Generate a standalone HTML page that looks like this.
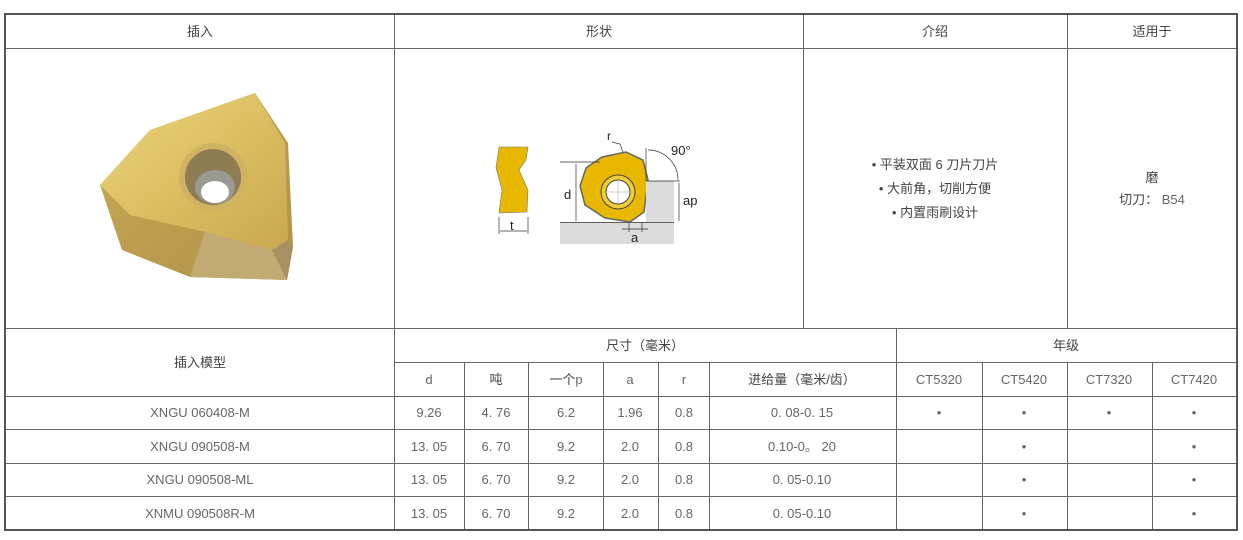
<!DOCTYPE html>
<html><head><meta charset="utf-8"><style>
html,body{margin:0;padding:0;background:#fff;}
svg{display:block;}
text{font-family:"Liberation Sans","Noto Sans CJK SC",sans-serif;font-size:13px;fill:#444;}
.n{fill:#666;}
</style></head><body>
<svg width="1243" height="540" viewBox="0 0 1243 540" xmlns="http://www.w3.org/2000/svg">
<defs>
<linearGradient id="g1" x1="0" y1="0" x2="1" y2="1">
<stop offset="0" stop-color="#ecd480"/><stop offset="0.5" stop-color="#dcbf62"/><stop offset="1" stop-color="#c8a850"/></linearGradient>
<linearGradient id="g2" x1="0" y1="0" x2="1" y2="1">
<stop offset="0" stop-color="#c9aa55"/><stop offset="1" stop-color="#b09248"/></linearGradient>
</defs>
<g stroke="#666" stroke-width="1" fill="none">
<line x1="5" y1="14.5" x2="1237" y2="14.5"/>
<line x1="5" y1="48.5" x2="1237" y2="48.5"/>
<line x1="5" y1="328.5" x2="1237" y2="328.5"/>
<line x1="394" y1="362.5" x2="1237" y2="362.5"/>
<line x1="5" y1="396.5" x2="1237" y2="396.5"/>
<line x1="5" y1="429.5" x2="1237" y2="429.5"/>
<line x1="5" y1="463.5" x2="1237" y2="463.5"/>
<line x1="5" y1="496.5" x2="1237" y2="496.5"/>
<line x1="394.5" y1="14" x2="394.5" y2="530"/>
<line x1="803.5" y1="14" x2="803.5" y2="328"/>
<line x1="1067.5" y1="14" x2="1067.5" y2="328"/>
<line x1="896.5" y1="328" x2="896.5" y2="530"/>
<line x1="464.5" y1="362" x2="464.5" y2="530"/>
<line x1="528.5" y1="362" x2="528.5" y2="530"/>
<line x1="603.5" y1="362" x2="603.5" y2="530"/>
<line x1="658.5" y1="362" x2="658.5" y2="530"/>
<line x1="709.5" y1="362" x2="709.5" y2="530"/>
<line x1="982.5" y1="362" x2="982.5" y2="530"/>
<line x1="1067.5" y1="362" x2="1067.5" y2="530"/>
<line x1="1152.5" y1="362" x2="1152.5" y2="530"/>
</g>
<rect x="5" y="14" width="1232" height="516" fill="none" stroke="#555" stroke-width="2"/>

<!-- insert photo -->
<polygon points="100,185 122,250 190,277 287,280 293,247 288,143 255,93 150,130" fill="url(#g2)"/>
<polygon points="100,185 150,130 255,93 285,143 288,240 272,250 205,232 130,215" fill="url(#g1)"/>
<polygon points="205,232 272,250 287,280 190,277" fill="#c2ab72"/>
<polygon points="272,250 288,240 293,247 287,280" fill="#a89060"/>
<circle cx="213" cy="177" r="34" fill="#cfb262"/>
<circle cx="213" cy="177" r="28" fill="#8e7c52"/>
<ellipse cx="215" cy="187" rx="20" ry="17" fill="#9a9a92"/>
<ellipse cx="215" cy="192" rx="14" ry="11" fill="#fff"/>

<!-- shape diagram -->
<polygon points="499,147 528,147 526,160 519,170 528,190 527,212 499,213 502,190 496,168" fill="#e8b800" stroke="#777" stroke-width="0.6"/>
<line x1="499" y1="217" x2="499" y2="234" stroke="#333" stroke-width="0.7"/>
<line x1="528" y1="217" x2="528" y2="234" stroke="#333" stroke-width="0.7"/>
<line x1="500" y1="231" x2="527" y2="231" stroke="#333" stroke-width="0.7"/>
<text x="510" y="230" style="font-size:13px;fill:#222">t</text>
<rect x="560" y="222" width="114" height="22" fill="#dcdcdc"/>
<line x1="560" y1="222.5" x2="674" y2="222.5" stroke="#333" stroke-width="0.7"/>
<polygon points="586,168 602,157 626,152 643,160 648,180 644,212 630,222 605,218 585,205 580,186" fill="#e8b800" stroke="#666" stroke-width="1.5"/>
<circle cx="618" cy="192" r="17" fill="#f2cc30" stroke="#444" stroke-width="1"/>
<circle cx="618" cy="192" r="12" fill="#fff" stroke="#444" stroke-width="1"/>
<line x1="604" y1="192" x2="632" y2="192" stroke="#999" stroke-width="0.5"/>
<line x1="618" y1="178" x2="618" y2="206" stroke="#999" stroke-width="0.5"/>
<rect x="646" y="181" width="28" height="41" fill="#dcdcdc"/>
<line x1="646" y1="181" x2="680" y2="181" stroke="#333" stroke-width="0.7"/>
<line x1="646" y1="148" x2="646" y2="181" stroke="#333" stroke-width="0.7"/>
<path d="M648,150 A30,30 0 0 1 678,180" fill="none" stroke="#333" stroke-width="0.7"/>
<text x="671" y="155" style="font-size:13px;fill:#222">90°</text>
<line x1="679" y1="183" x2="679" y2="221" stroke="#333" stroke-width="0.7"/>
<text x="683" y="205" style="font-size:13px;fill:#222">ap</text>
<line x1="560" y1="162" x2="600" y2="162" stroke="#333" stroke-width="0.7"/>
<line x1="576" y1="164" x2="576" y2="221" stroke="#333" stroke-width="0.7"/>
<text x="564" y="199" style="font-size:13px;fill:#222">d</text>
<text x="607" y="140" style="font-size:12px;fill:#222">r</text>
<path d="M612,142 L620,144 L623,152" fill="none" stroke="#333" stroke-width="0.7"/>
<line x1="629" y1="222" x2="629" y2="232" stroke="#333" stroke-width="0.7"/>
<line x1="642" y1="222" x2="642" y2="232" stroke="#333" stroke-width="0.7"/>
<line x1="622" y1="229" x2="648" y2="229" stroke="#333" stroke-width="0.7"/>
<text x="631" y="242" style="font-size:13px;fill:#222">a</text>

<g text-anchor="middle">
<text x="200" y="36">插入</text>
<text x="599" y="36">形状</text>
<text x="935" y="36">介绍</text>
<text x="1152" y="36">适用于</text>
<text x="935" y="169">• 平装双面 6 刀片刀片</text>
<text x="935" y="193">• 大前角，切削方便</text>
<text x="935" y="217">• 内置雨刷设计</text>
<text x="1152" y="182">磨</text>
<text x="1152" y="204">切刀： <tspan class="n">B54</tspan></text>
<text x="200" y="367">插入模型</text>
<text x="645" y="350">尺寸（毫米）</text>
<text x="1066" y="350">年级</text>
<text x="429" y="384" class="n">d</text>
<text x="496" y="384">吨</text>
<text x="566" y="384">一个<tspan class="n">p</tspan></text>
<text x="630" y="384" class="n">a</text>
<text x="684" y="384" class="n">r</text>
<text x="802" y="384">进给量（毫米/齿）</text>
<text x="939" y="384" class="n">CT5320</text>
<text x="1024" y="384" class="n">CT5420</text>
<text x="1109" y="384" class="n">CT7320</text>
<text x="1194" y="384" class="n">CT7420</text>
</g>
<g text-anchor="middle" class="n">
<text x="200" y="417" class="n">XNGU 060408-M</text><text x="429" y="417" class="n">9.26</text><text x="496" y="417" class="n">4. 76</text><text x="566" y="417" class="n">6.2</text><text x="630" y="417" class="n">1.96</text><text x="684" y="417" class="n">0.8</text><text x="802" y="417" class="n">0. 08-0. 15</text>
<text x="939" y="417" class="n">•</text><text x="1024" y="417" class="n">•</text><text x="1109" y="417" class="n">•</text><text x="1194" y="417" class="n">•</text>
<text x="200" y="451" class="n">XNGU 090508-M</text><text x="429" y="451" class="n">13. 05</text><text x="496" y="451" class="n">6. 70</text><text x="566" y="451" class="n">9.2</text><text x="630" y="451" class="n">2.0</text><text x="684" y="451" class="n">0.8</text><text x="802" y="451" class="n">0.10-0。 20</text>
<text x="1024" y="451" class="n">•</text><text x="1194" y="451" class="n">•</text>
<text x="200" y="484" class="n">XNGU 090508-ML</text><text x="429" y="484" class="n">13. 05</text><text x="496" y="484" class="n">6. 70</text><text x="566" y="484" class="n">9.2</text><text x="630" y="484" class="n">2.0</text><text x="684" y="484" class="n">0.8</text><text x="802" y="484" class="n">0. 05-0.10</text>
<text x="1024" y="484" class="n">•</text><text x="1194" y="484" class="n">•</text>
<text x="200" y="518" class="n">XNMU 090508R-M</text><text x="429" y="518" class="n">13. 05</text><text x="496" y="518" class="n">6. 70</text><text x="566" y="518" class="n">9.2</text><text x="630" y="518" class="n">2.0</text><text x="684" y="518" class="n">0.8</text><text x="802" y="518" class="n">0. 05-0.10</text>
<text x="1024" y="518" class="n">•</text><text x="1194" y="518" class="n">•</text>
</g>
</svg>
</body></html>
